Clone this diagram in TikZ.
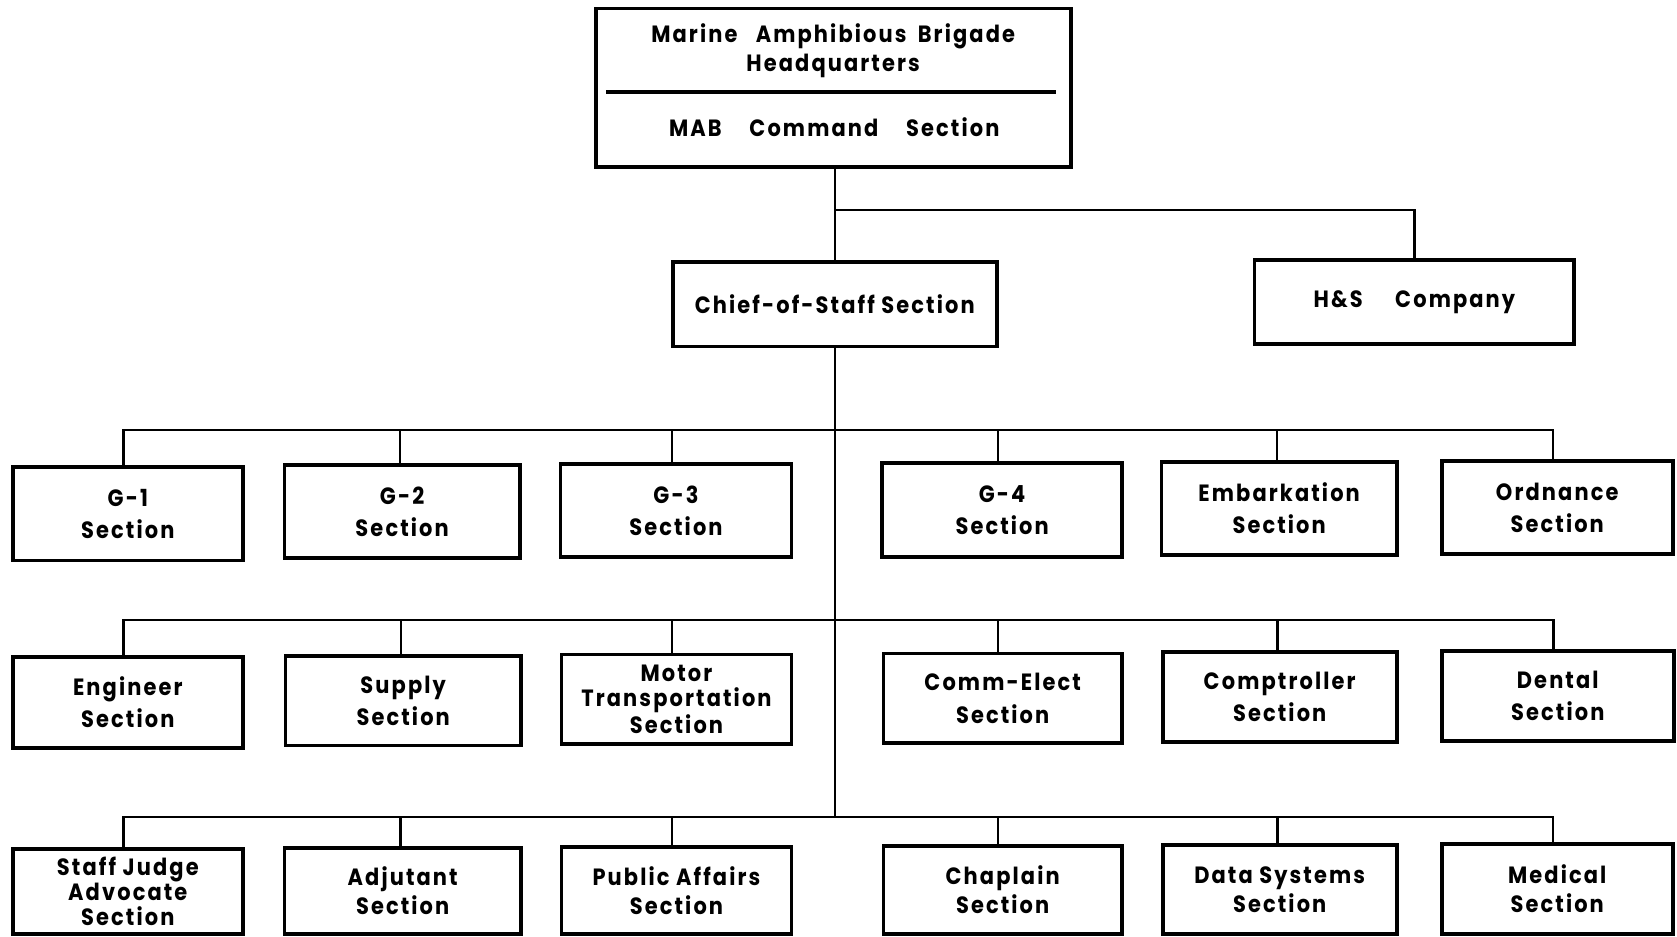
\documentclass[tikz,border=0pt]{standalone}
\usepackage{fontspec}
\setmainfont{Poppins}[FakeStretch=0.89,LetterSpace=9,BoldFont={* Bold}]
\begin{document}
\begin{tikzpicture}[x=0.5pt,y=-0.5pt,
  box/.style={draw,line width=1.8pt,rectangle,inner sep=0pt,outer sep=0pt,align=center,
    font=\fontsize{11}{15}\selectfont\bfseries},
  row3/.style={font=\fontsize{11}{13.5}\selectfont\bfseries},
  three/.style={font=\fontsize{11}{11.5}\selectfont\bfseries},
  link/.style={line width=1pt},
  lbl/.style={inner sep=0pt,align=center,font=\fontsize{11}{13.5}\selectfont\bfseries}]
\useasboundingbox (0,0) rectangle (1568,876);
\newcommand\bx[7][]{\node[box,#1,minimum width={(#5-#3)*0.5pt},minimum height={(#6-#4)*0.5pt}] (#2) at ({(#3+#5)/2},{(#4+#6)/2}) {#7};}
% top
\bx{mab}{557}{8}{1001}{156}{}
\node[lbl] (mabt) at (779,47.5) {Marine\hspace{0.5em} Amphibious\hspace{0.2em} Brigade\\Headquarters};
\draw[line width=1.6pt] ([xshift=5pt]mab.west |- 0,86) coordinate (dl) -- ([xshift=-7pt]mab.east |- 0,86) coordinate (dr);
\node[lbl] (mabc) at (780,119) {MAB\hspace{0.9em} Command\hspace{0.9em} Section};
\bx{cos}{629}{245}{932}{324}{Chief-of-Staff Section}
\bx{hs}{1173}{243}{1472}{322}{H\&S\hspace{1.1em} Company}
% row 1
\bx{g1}{12}{437}{227}{524}{G-1\\Section}
\bx{g2}{266}{435}{486}{522}{G-2\\Section}
\bx{g3}{524}{434}{740}{521}{G-3\\Section}
\bx{g4}{825}{433}{1049}{521}{G-4\\Section}
\bx{emb}{1086}{432}{1306}{519}{Embarkation\\Section}
\bx{ord}{1348}{431}{1564}{518}{Ordnance\\Section}
% row 2
\bx{eng}{12}{614}{227}{699}{Engineer\\Section}
\bx{sup}{267}{613}{487}{697}{Supply\\Section}
\bx[three]{mot}{525}{612}{740}{696}{Motor\\Transportation\\Section}
\bx{com}{826}{611}{1049}{695}{Comm-Elect\\Section}
\bx{cpt}{1087}{610}{1306}{694}{Comptroller\\Section}
\bx{den}{1348}{609}{1565}{693}{Dental\\Section}
% row 3
\bx[three]{sja}{12}{794}{227}{873}{Staff Judge\\Advocate\\Section}
\bx[row3]{adj}{266}{793}{487}{873}{Adjutant\\Section}
\bx[row3]{pa}{525}{792}{740}{873}{Public Affairs\\Section}
\bx[row3]{cha}{826}{791}{1049}{873}{Chaplain\\Section}
\bx[row3]{dat}{1087}{790}{1306}{873}{Data Systems\\Section}
\bx[row3]{med}{1348}{789}{1564}{873}{Medical\\Section}
% connectors
\coordinate (t1) at (0,196);
\coordinate (r1) at (0,402);
\coordinate (r2) at (0,580);
\coordinate (r3) at (0,764);
\draw[link] (cos.north |- mab.south) -- (cos.north);
\draw[link] (cos.north |- t1) -| (hs.north);
\draw[link] (cos.south) -- (cos.south |- r3);
\foreach \a/\b/\c/\r in {g1/g3/g2/r1,g4/ord/emb/r1,eng/mot/sup/r2,com/den/cpt/r2,sja/pa/adj/r3,cha/med/dat/r3}{
  \draw[link] ([xshift=-2pt]\a.north) -- ([xshift=-2pt]\a.north |- \r) -- ([xshift=-2pt]\b.north |- \r) -- ([xshift=-2pt]\b.north);
  \draw[link] ([xshift=-1pt]\c.north) -- ([xshift=-1pt]\c.north |- \r);
}
\draw[link] ([xshift=-2pt]g3.north |- r1) -- (g4.north |- r1);
\draw[link] ([xshift=-2pt]mot.north |- r2) -- (com.north |- r2);
\draw[link] ([xshift=-2pt]pa.north |- r3) -- (cha.north |- r3);
\end{tikzpicture}
\end{document}
